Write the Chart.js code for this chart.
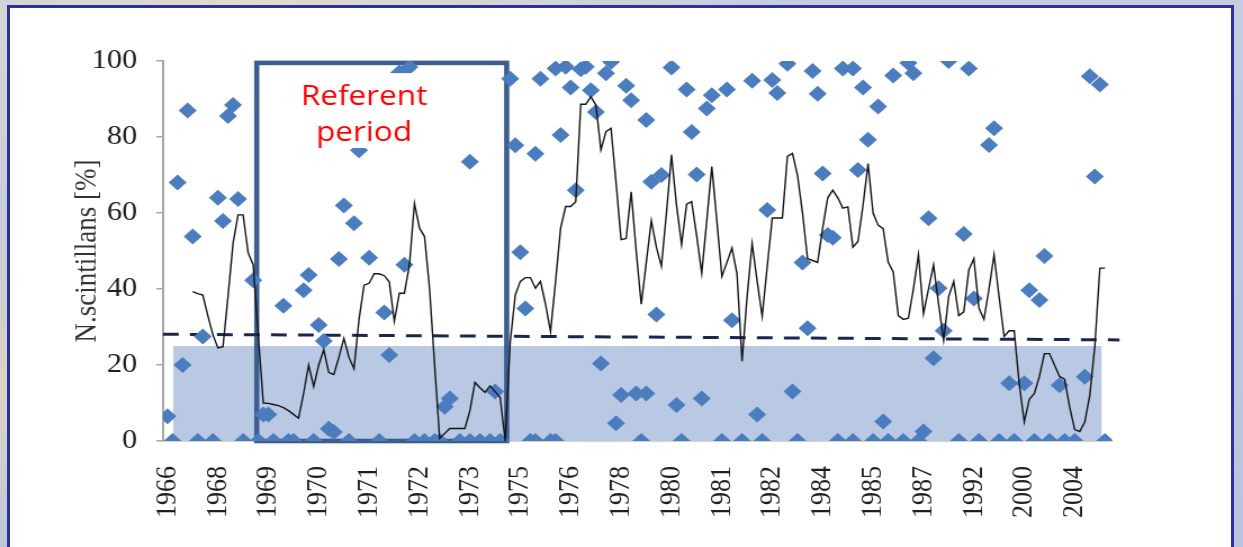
<!DOCTYPE html>
<html>
<head>
<meta charset="utf-8">
<script src="https://cdn.jsdelivr.net/npm/chart.js@4.4.1/dist/chart.umd.min.js"></script>
<style>
  html, body { margin: 0; padding: 0; width: 1243px; height: 547px; overflow: hidden; }
  body {
    background:
      radial-gradient(ellipse at 20% 0%, rgba(230,222,200,0.8), rgba(230,222,200,0) 40%),
      radial-gradient(ellipse at 0% 70%, rgba(225,215,190,0.8), rgba(225,215,190,0) 35%),
      linear-gradient(180deg, #c4cde0 0%, #b9c5dd 100%);
  }
  #panel {
    position: absolute; left: 7px; top: 5px; width: 1227px; height: 570px;
    background: #ffffff; border: 3px solid #2f2f9e; box-sizing: border-box;
  }
  #wrap {
    position: absolute; left: 0; top: 0; width: 1105px; height: 547px;
    transform: scaleX(1.12489); transform-origin: 0 0;
  }
  canvas { display: block; }
</style>
</head>
<body>
<div id="panel"></div>
<div id="wrap"><canvas id="chart" width="1105" height="547"></canvas></div>
<script>
// Category labels: one year label every `labelEvery` samples
const tickYears = ['1966','1968','1969','1970','1971','1972','1973','1975','1976','1978',
                   '1980','1981','1982','1984','1985','1987','1992','2000','2004'];
const labelEvery = 10;

// Running mean of the share of N. scintillans (%), starting at sample `lineStart`
const lineStart = 5;
const lineValues = [
  39.3, 38.8, 38.4, 33, 28, 24.5, 24.8, 38, 52, 59.5,
  59.5, 49.5, 46.4, 28, 10, 9.9, 9.6, 9.3, 8.8, 8,
  7, 6, 12.5, 20, 14.3, 20, 24, 18, 17.5, 22,
  27, 22, 19, 32, 41, 41.5, 44, 44, 43.5, 41.9,
  31.5, 38.9, 38.9, 46.3, 62.5, 56, 53.8, 40, 20, 0.7,
  2, 3.3, 3.3, 3.3, 3.3, 8, 15.4, 14, 12.8, 14.5,
  13, 11.5, 0, 26, 38.4, 42, 43, 43, 40.2, 42,
  36, 28.8, 42, 56, 61.7, 61.7, 63, 88.6, 88.6, 90.6,
  88.4, 76.6, 81.4, 82.3, 68, 53, 53.3, 65.6, 50, 36,
  47, 58, 51, 46, 60, 75.3, 62, 51.7, 62.3, 63,
  54, 44.2, 58, 72.2, 58, 43.3, 47, 50.8, 44, 21,
  38, 52, 42, 32.8, 46, 58.7, 58.7, 58.7, 74.9, 75.7,
  70, 60, 48, 47.5, 47, 56, 64, 66, 64, 61.3,
  61.6, 51, 52.5, 62, 73, 60, 56.8, 55.9, 47, 44.5,
  33, 32, 32.3, 40, 49, 33.5, 40, 46.3, 36, 26.5,
  38, 42, 33, 34, 45, 48, 35, 32, 40, 49,
  38, 27.5, 29, 29, 15, 5, 11, 12.5, 17, 23,
  23, 20, 17, 16.3, 9, 3, 2.5, 5, 12, 25,
  45.5, 45.5
];

// Individual samples: sample number and share (%)
const sampleIndex = [
  0, 1, 2, 3, 4, 5, 6, 7, 9, 10, 11, 12, 13, 14, 15, 17, 18, 19, 20, 21,
  23, 24, 25, 27, 28, 29, 30, 31, 32, 33, 34, 35, 36, 37, 38, 40, 42, 43, 44, 46,
  47, 48, 49, 51, 53, 54, 55, 56, 58, 60, 60, 62, 64, 65, 66, 68, 69, 70, 71, 72,
  73, 73, 74, 76, 77, 77, 78, 79, 80, 81, 82, 83, 84, 85, 86, 87, 88, 89, 90, 91,
  92, 93, 94, 95, 95, 96, 97, 98, 100, 101, 102, 103, 104, 105, 106, 107, 108, 110, 111, 112,
  114, 116, 117, 118, 119, 120, 121, 123, 124, 125, 126, 127, 128, 129, 130, 131, 132, 133, 134, 136,
  136, 137, 138, 139, 140, 141, 142, 143, 144, 146, 147, 148, 149, 150, 151, 152, 153, 154, 155, 157,
  158, 159, 160, 161, 163, 164, 165, 167, 168, 170, 171, 172, 173, 174, 175, 177, 178, 180, 182, 183,
  184, 185, 186
];
const sampleValue = [
  6.5, 0, 68, 20, 87, 53.8, 0, 27.5, 0, 64, 57.9, 85.5, 88.4, 63.7, 0, 42.3, 0, 7, 7, 0,
  35.6, 0, 0, 39.7, 43.7, 0, 30.5, 26.3, 3.2, 2.4, 47.9, 62, 0, 57.3, 76.5, 48.2, 0, 33.8, 22.6, 97,
  46.4, 98.4, 0, 0, 0, 0, 9, 11.2, 0, 0, 73.5, 0, 0, 13, 0, 95.3, 77.8, 49.7, 34.9, 0,
  75.6, 0, 95.3, 0, 0, 98, 80.5, 98.5, 93, 66, 97.8, 98.5, 92.3, 86.6, 20.4, 96.8, 99.8, 4.7, 12.1, 93.5,
  89.7, 12.5, 0, 12.5, 84.5, 68.2, 33.3, 70, 98.3, 9.5, 0, 92.5, 81.3, 70.1, 11.2, 87.5, 91, 0, 92.5, 31.8,
  0, 94.8, 7, 0, 60.8, 95, 91.6, 99.3, 13, 0, 47, 29.7, 97.4, 91.4, 70.4, 54.2, 53.5, 0, 98, 98,
  0, 71.3, 93, 79.3, 0, 88, 5.1, 0, 96.2, 0, 99.5, 96.8, 0, 2.5, 58.6, 21.8, 40.2, 29, 100, 0,
  54.5, 98, 37.5, 0, 77.9, 82.3, 0, 15.2, 0, 15.2, 39.7, 0, 37.1, 48.7, 0, 14.7, 0, 0, 16.9, 96,
  69.6, 93.8, 0
];

// Low-share band (0-25 %) over the sampled range
const bandLimit = 25;
const bandSpan = [1.1, 185.4];
// Overall linear trend of the share
const trendSpan = [-0.9, 188.9];
const trendValues = [28.1, 26.6];
// Reference period frame and caption
const periodSpan = [17.7, 67.3];
const periodTop = 99.5;
const periodLabel = ['Referent', 'period'];

const SERIF = "'Liberation Serif', 'Times New Roman', serif";

const linePoints = lineValues.map((v, k) => ({ x: lineStart + k, y: v }));
const samplePoints = sampleIndex.map((x, k) => ({ x: x, y: sampleValue[k] }));

const periodPlugin = {
  id: 'referencePeriod',
  beforeDatasetDraw(chart, args) {
    if (chart.data.datasets[args.index].label !== 'trend') return;
    const { ctx, scales: { x, y } } = chart;
    const x0 = x.getPixelForValue(periodSpan[0]);
    const x1 = x.getPixelForValue(periodSpan[1]);
    const y0 = y.getPixelForValue(0);
    const y1 = y.getPixelForValue(periodTop);
    ctx.save();
    ctx.strokeStyle = '#3e5d8f';
    ctx.lineWidth = 4.6;
    ctx.strokeRect(x0, y1, x1 - x0, y0 - y1);
    ctx.restore();
  },
  afterDatasetsDraw(chart) {
    const { ctx, scales: { x, y } } = chart;
    const bx0 = x.getPixelForValue(20.3);
    const bx1 = x.getPixelForValue(56.6);
    const by0 = y.getPixelForValue(96.8);
    const by1 = y.getPixelForValue(77.1);
    ctx.save();
    ctx.fillStyle = '#ffffff';
    ctx.fillRect(bx0, by0, bx1 - bx0, by1 - by0);
    ctx.fillStyle = '#ff0000';
    ctx.font = "28px 'Open Sans', 'Noto Sans', sans-serif";
    ctx.textAlign = 'center';
    ctx.textBaseline = 'alphabetic';
    const cx = x.getPixelForValue(39);
    ctx.fillText(periodLabel[0], cx, y.getPixelForValue(88.4));
    ctx.fillText(periodLabel[1], cx, y.getPixelForValue(78.9));
    ctx.restore();
  }
};

new Chart(document.getElementById('chart'), {
  type: 'line',
  data: {
    datasets: [
      {
        label: 'running mean',
        data: linePoints,
        borderColor: '#141414',
        borderWidth: 1.4,
        pointRadius: 0,
        tension: 0,
        fill: false,
        order: 1
      },
      {
        type: 'scatter',
        label: 'samples',
        data: samplePoints,
        pointStyle: 'rectRot',
        pointRadius: 8,
        backgroundColor: '#4a7cbe',
        borderWidth: 0,
        order: 2
      },
      {
        label: 'trend',
        data: trendSpan.map((xv, k) => ({ x: xv, y: trendValues[k] })),
        borderColor: '#1c2550',
        borderWidth: 3,
        borderDash: [14, 10],
        pointRadius: 0,
        fill: false,
        clip: false,
        order: 3
      },
      {
        label: 'band',
        data: bandSpan.map(xv => ({ x: xv, y: bandLimit })),
        borderWidth: 0,
        pointRadius: 0,
        backgroundColor: '#b9c9e4',
        fill: 'origin',
        order: 4
      }
    ]
  },
  options: {
    responsive: false,
    animation: false,
    devicePixelRatio: 1,
    events: [],
    layout: { padding: { top: 61, right: 116.5, bottom: 0, left: 0 } },
    plugins: { legend: { display: false }, tooltip: { enabled: false } },
    scales: {
      x: {
        type: 'linear',
        min: -0.893,
        max: 187.4,
        bounds: 'data',
        afterBuildTicks: (scale) => {
          scale.ticks = tickYears.map((_, k) => ({ value: k * labelEvery }));
        },
        afterFit: (scale) => { scale.height = 106; },
        ticks: {
          autoSkip: false,
          minRotation: 90,
          maxRotation: 90,
          padding: 25,
          color: '#1e1e1e',
          font: { family: SERIF, size: 26 },
          callback: (value) => tickYears[Math.round(value / labelEvery)]
        },
        grid: { display: false, drawTicks: false },
        border: { display: true, color: '#a8a8a8', width: 1.5 }
      },
      y: {
        min: 0,
        max: 100,
        afterFit: (scale) => { scale.width = 144.9; },
        ticks: {
          stepSize: 20,
          padding: 17,
          color: '#1e1e1e',
          font: { family: SERIF, size: 27 }
        },
        grid: { drawOnChartArea: false, drawTicks: true, tickLength: 6, color: '#a8a8a8', lineWidth: 1.5 },
        border: { display: true, color: '#a8a8a8', width: 2 },
        title: {
          display: true,
          text: 'N.scintillans [%]',
          color: '#333333',
          font: { family: SERIF, size: 27 },
          padding: { top: 62, bottom: 0 }
        }
      }
    }
  },
  plugins: [periodPlugin]
});
</script>
</body>
</html>
